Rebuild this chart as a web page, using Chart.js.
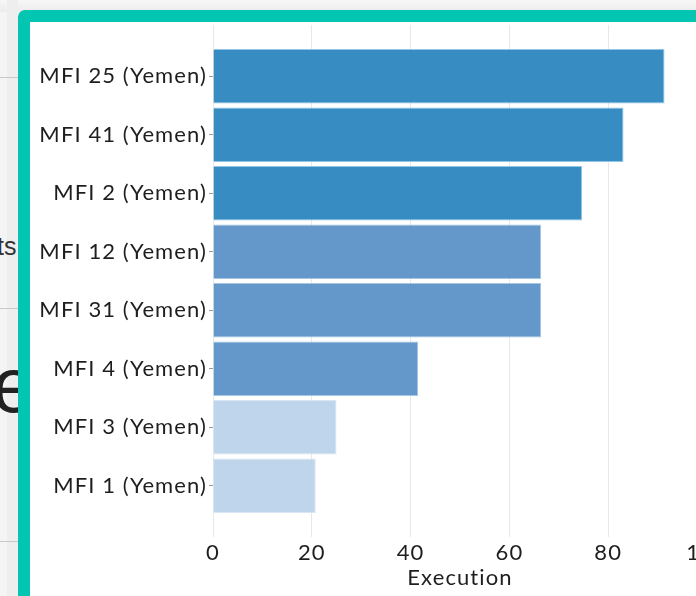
<!DOCTYPE html>
<html><head><meta charset="utf-8">
<script src="https://cdn.jsdelivr.net/npm/chart.js@4/dist/chart.umd.min.js"></script>
<style>
html,body{margin:0;padding:0;width:696px;height:596px;overflow:hidden;background:#f4f4f4;font-family:"Liberation Sans",Arial,sans-serif;}
.top{position:absolute;left:0;top:0;width:696px;height:12px;background:linear-gradient(#f7f7f7,#ececec);}
.strip{position:absolute;left:7px;top:0;width:11px;height:596px;background:#eeeeee;}
.hl{position:absolute;left:0;width:18px;height:1px;background:#c8c8c8;}
.ts{position:absolute;left:-3px;top:232px;font-size:25px;color:#333;}
.e{position:absolute;left:-8px;top:346px;font-size:78px;color:#222;line-height:1;}
#card{position:absolute;left:18px;top:10px;width:760px;height:600px;box-sizing:border-box;border:12px solid #02c6b2;border-radius:7px;background:#fff;overflow:hidden;}
#card canvas{position:absolute;left:0;top:0;}
</style></head>
<body>
<div class="top"></div>
<div class="strip"></div>
<div class="hl" style="top:77px"></div>
<div class="hl" style="top:308px"></div>
<div class="hl" style="top:541px"></div>
<div class="ts">ts</div>
<div class="e">e</div>
<div id="card"><canvas id="c" width="700" height="571"></canvas></div>
<script>
const categories = ["MFI 25 (Yemen)","MFI 41 (Yemen)","MFI 2 (Yemen)","MFI 12 (Yemen)","MFI 31 (Yemen)","MFI 4 (Yemen)","MFI 3 (Yemen)","MFI 1 (Yemen)"];
const execution = [91.4, 83.1, 74.7, 66.4, 66.4, 41.5, 25.0, 20.8];
const xTicks = [0, 20, 40, 60, 80, 100];
const axisTitle = "Execution";

function barColor(v){
  if (v >= 70) return "rgba(38,131,189,0.92)";
  if (v >= 40) return "rgba(88,143,197,0.92)";
  return "rgba(184,209,234,0.92)";
}
function barBorder(v){
  if (v >= 70) return "rgba(140,195,232,0.95)";
  if (v >= 40) return "rgba(160,195,228,0.95)";
  return "rgba(214,229,244,0.95)";
}
const FONT = "Lato";
const txt = "#1e1e1e";
const gridC = "rgba(0,0,0,0.09)";

const spacing = {
  id: "spacing",
  beforeDraw(chart){ chart.ctx.letterSpacing = "1.1px"; }
};

new Chart(document.getElementById("c"), {
  type: "bar",
  data: {
    labels: categories,
    datasets: [{
      data: execution,
      backgroundColor: execution.map(barColor),
      borderColor: execution.map(barBorder),
      borderWidth: 1,
      barPercentage: 0.93,
      categoryPercentage: 1
    }]
  },
  plugins: [spacing],
  options: {
    indexAxis: "y",
    responsive: false,
    animation: false,
    layout: { padding: { top: 3, right: 23, left: 0, bottom: 0 } },
    plugins: { legend: { display: false }, tooltip: { enabled: false } },
    scales: {
      x: {
        type: "linear", position: "bottom",
        min: xTicks[0], max: xTicks[xTicks.length-1],
        afterBuildTicks: s => { s.ticks = xTicks.map(v => ({value: v})); },
        grid: { color: gridC, tickLength: 22, tickColor: gridC },
        border: { display: false },
        ticks: { font: { family: FONT, size: 22 }, color: txt, padding: 3 },
        title: { display: true, text: axisTitle, font: { family: FONT, size: 22 }, color: txt, padding: { top: 0, bottom: 2 } },
        afterFit: s => { s.height = 78; }
      },
      x2: {
        type: "linear", position: "top",
        min: xTicks[0], max: xTicks[xTicks.length-1],
        afterBuildTicks: s => { s.ticks = xTicks.map(v => ({value: v})); },
        grid: { drawOnChartArea: false, tickLength: 22, tickColor: gridC },
        border: { display: false },
        ticks: { display: false }
      },
      y: {
        type: "category", offset: true,
        grid: { display: true, drawOnChartArea: false, offset: false, tickLength: 4, tickColor: "#999" },
        border: { display: false },
        ticks: { font: { family: FONT, size: 22 }, color: txt, padding: 2 },
        afterFit: s => { s.width = 183; }
      }
    }
  }
});
</script>
</body></html>
